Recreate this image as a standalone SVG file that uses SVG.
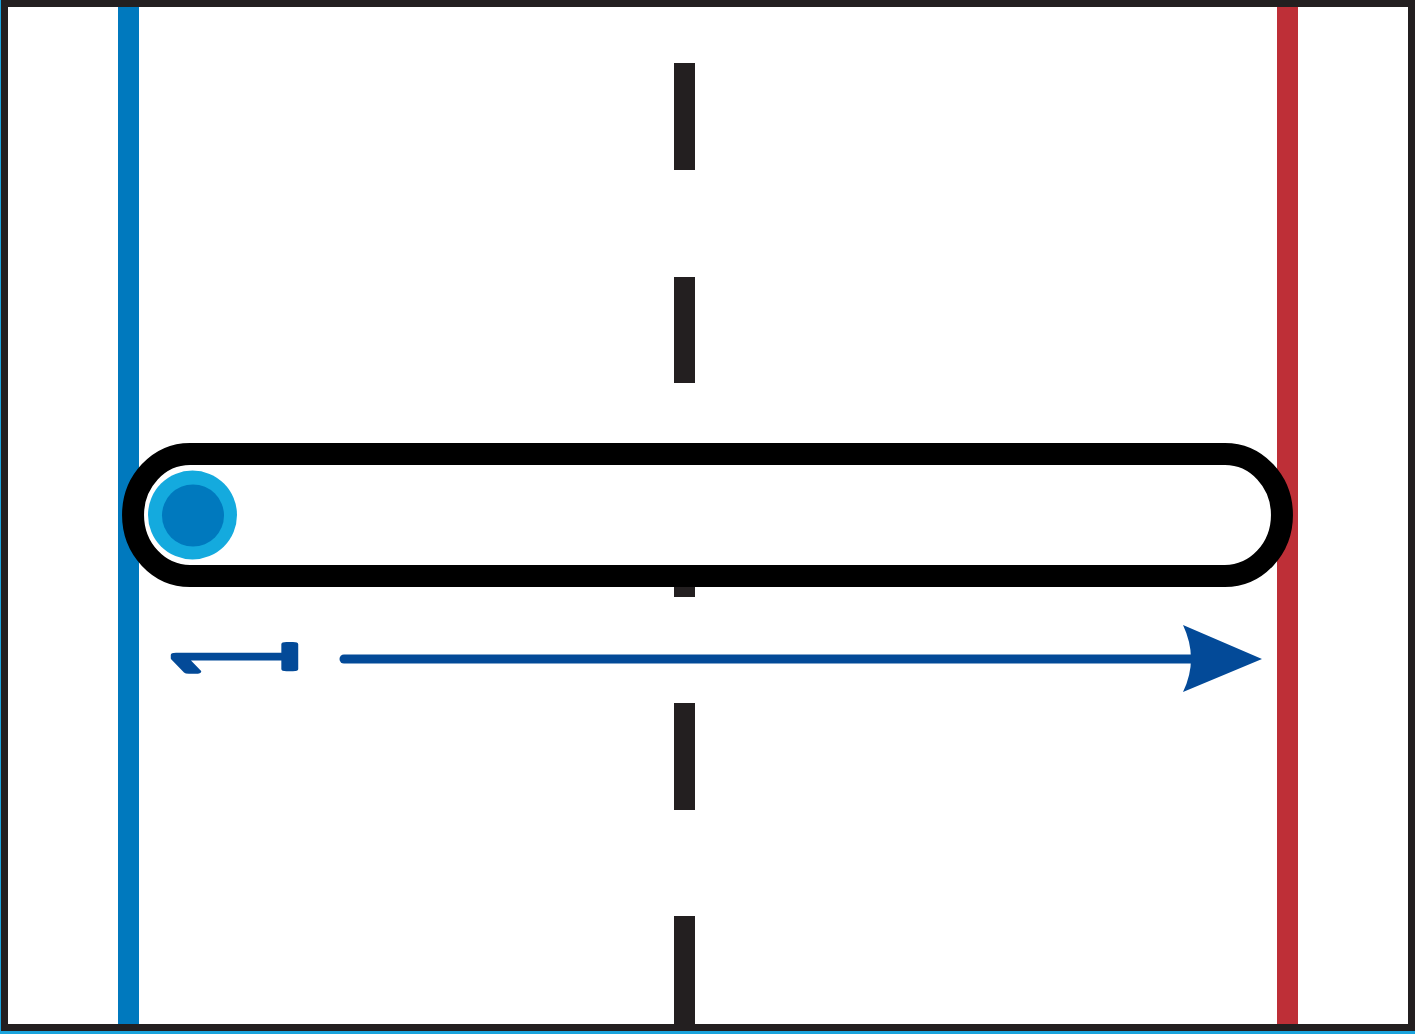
<svg xmlns="http://www.w3.org/2000/svg" width="1415" height="1034" viewBox="0 0 1415 1034">
  <style>
    .dash { fill: #231f20; }
    .arrow { stroke: #034a98; stroke-width: 9; stroke-linecap: round; fill: none; }
    .label { font-family: "DejaVu Sans", "Liberation Sans", sans-serif; font-weight: 200; fill: #034a98; stroke: #034a98; stroke-width: 8; stroke-linejoin: round; stroke-linecap: round; vector-effect: non-scaling-stroke; }
  </style>
  <rect x="0" y="0" width="1415" height="1034" fill="#ffffff"/>
  <rect x="0" y="1031" width="1415" height="3" fill="#1aa3dc"/>
  <rect x="0" y="0" width="1" height="1034" fill="#1aa3dc"/>
  <g id="frame">
    <rect x="4.5" y="3.5" width="1407" height="1024" fill="none" stroke="#231f20" stroke-width="7"/>
  </g>
  <g id="blue-line">
    <rect x="118" y="7" width="21" height="1017" fill="#0079be"/>
  </g>
  <g id="red-line">
    <rect x="1277" y="7" width="21" height="1017" fill="#be2f37"/>
  </g>
  <g id="center-line">
    <rect class="dash" x="674" y="63" width="21" height="107"/>
    <rect class="dash" x="674" y="277" width="21" height="106"/>
    <rect class="dash" x="674" y="490" width="21" height="107"/>
    <rect class="dash" x="674" y="703" width="21" height="107"/>
    <rect class="dash" x="674" y="916" width="21" height="108"/>
  </g>
  <g id="pill">
    <path d="M190,454 H1225 A57,61 0 0 1 1225,576 H190 A57,61 0 0 1 190,454 Z" fill="#ffffff" stroke="#000000" stroke-width="22"/>
  </g>
  <g id="player">
    <circle cx="192.5" cy="515" r="44.5" fill="#14aade"/>
    <circle cx="193" cy="515.5" r="31" fill="#0079be"/>
  </g>
  <g id="label-1">
    <text class="label" x="0" y="0" font-size="161" transform="translate(293,679) rotate(-90) scale(0.416,1)">1</text>
  </g>
  <g id="connectors">
    <line class="arrow" x1="344" y1="659" x2="1192" y2="659"/>
    <path d="M1262,659 L1183,625 Q1199,659 1183,692 Z" fill="#034a98"/>
  </g>
</svg>
